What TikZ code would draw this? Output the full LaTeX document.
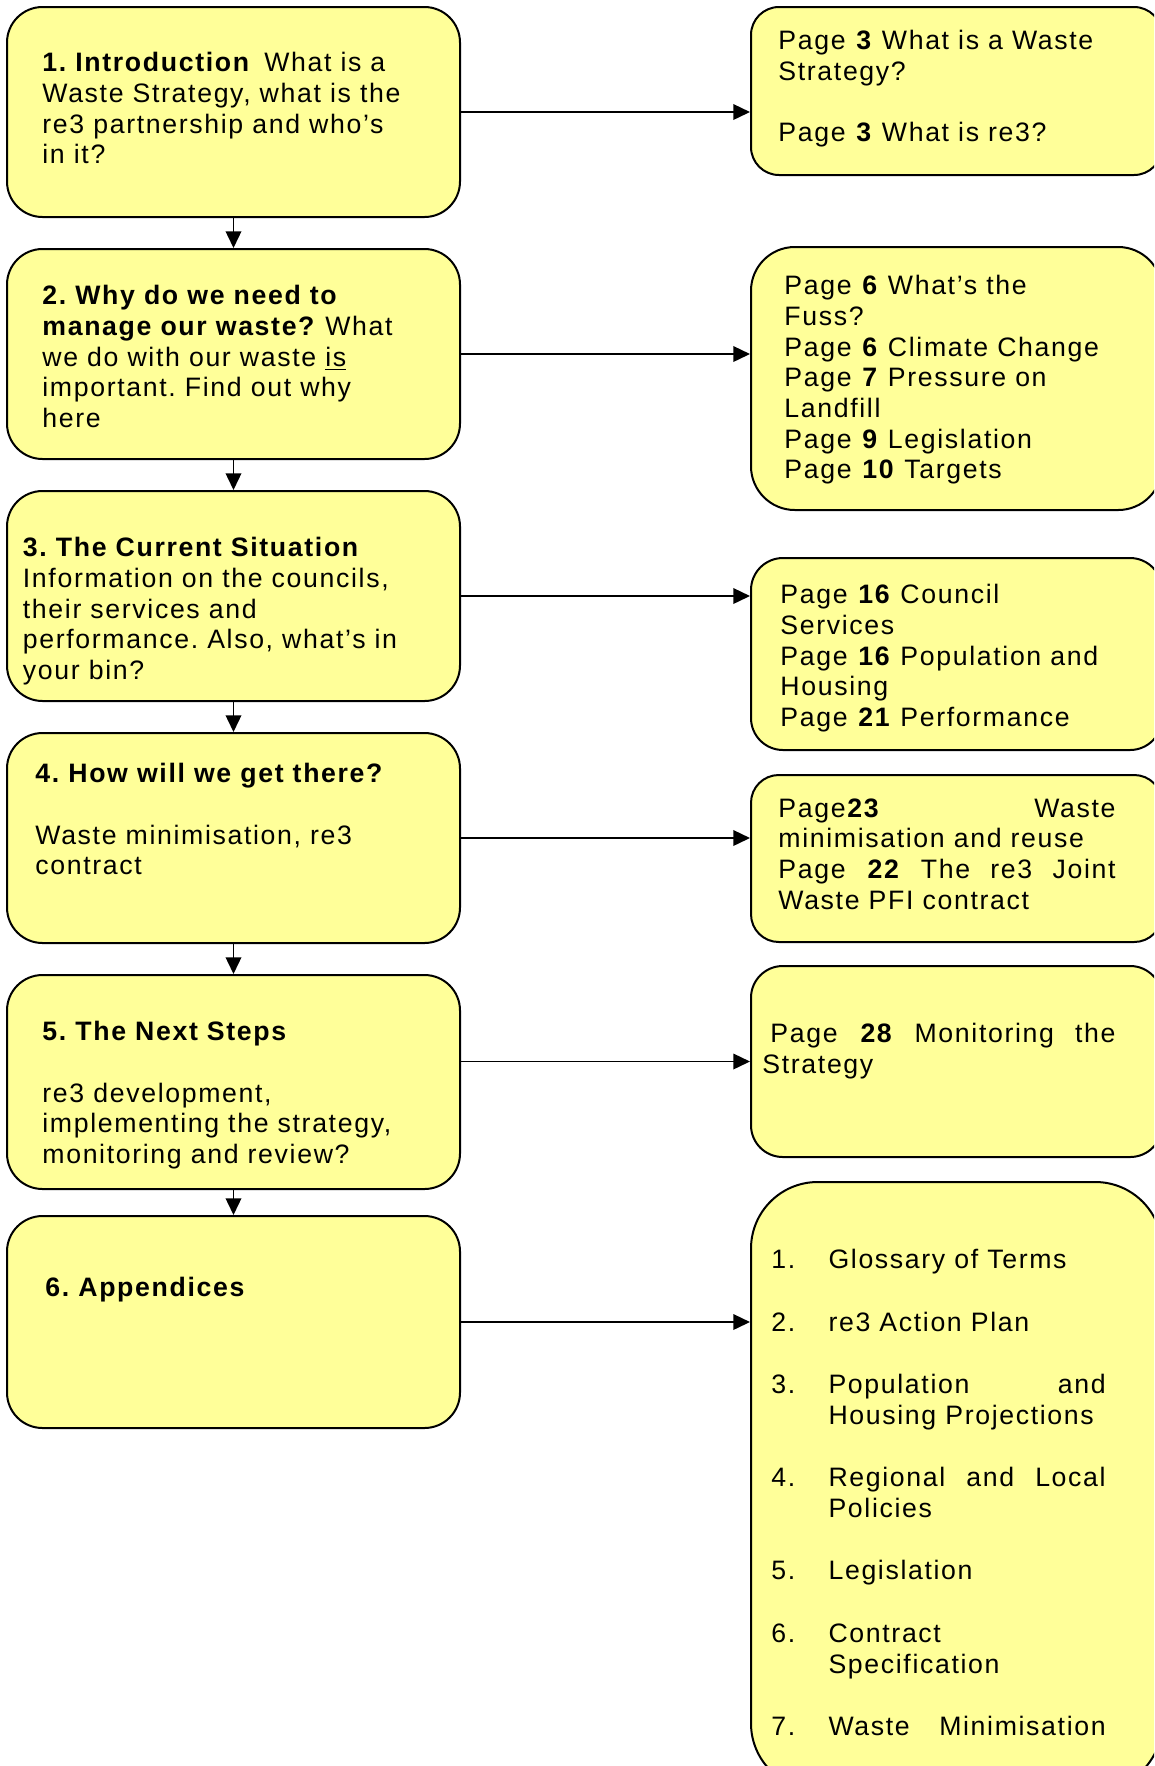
\documentclass[tikz,border=0pt]{standalone}
\usepackage{fontspec}
\setmainfont{Liberation Sans}[LetterSpace=6.2]
\usetikzlibrary{arrows.meta,fit}
\definecolor{boxyellow}{RGB}{255,255,153}
\newcommand{\apx}[2]{\makebox[25.7pt][l]{#1}#2}
\frenchspacing

\tikzset{
  lbox/.style={draw, line width=0.9pt, fill=boxyellow, rounded corners=16pt, inner sep=0pt},
  rbox/.style={lbox, rounded corners=#1},
  rbox/.default=13pt,
  txt/.style={anchor=north west, inner sep=0pt, align=left, font=\fontsize{12}{13.8}\selectfont},
  arr/.style={-{Triangle[length=7.5pt,width=7pt]}, line width=0.8pt},
}

\begin{document}
\begin{tikzpicture}[x=0.45pt,y=-0.45pt]
\clip (0,0) rectangle (1154,1766);

\node [lbox, fit={(7,7) (460,217)}] (b1) {};
\node [lbox, fit={(7,249) (460,459)}] (b2) {};
\node [lbox, fit={(7,491) (460,701)}] (b3) {};
\node [lbox, fit={(7,733) (460,943)}] (b4) {};
\node [lbox, fit={(7,975) (460,1189)}] (b5) {};
\node [lbox, fit={(7,1216) (460,1428)}] (b6) {};

\node [rbox=12.6pt, fit={(751,7) (1162,175)}] (r1) {};
\node [rbox=19.7pt, fit={(751,247) (1162,510)}] (r2) {};
\node [rbox=14.4pt, fit={(751,558) (1162,750)}] (r3) {};
\node [rbox=12.5pt, fit={(751,775) (1162,942)}] (r4) {};
\node [rbox=14.3pt, fit={(751,966) (1162,1157)}] (r5) {};
\node [rbox=30pt, fit={(751,1182) (1162,1790)}] (r6) {};

\node [txt] (t1) at (42,52) {\textbf{1. Introduction}\hspace{2pt} What is a\\Waste Strategy, what is the\\re3 partnership and who’s\\in it?};
\node [txt] (t2) at (42,285) {\textbf{2. Why do we need to}\\\textbf{manage our waste?} What\\we do with our waste \underline{is}\\important. Find out why\\here};
\node [txt] (t3) at (22.5,537) {\textbf{3. The Current Situation}\\Information on the councils,\\their services and\\performance. Also, what’s in\\your bin?};
\node [txt] (t4) at (35,763) {\textbf{4. How will we get there?}\\[13.8pt]Waste minimisation, re3\\contract};
\node [txt] (t5) at (42,1021) {\textbf{5. The Next Steps}\\[13.8pt]re3 development,\\implementing the strategy,\\monitoring and review?};
\node [txt] (t6) at (45,1277) {\textbf{6. Appendices}};

\node [txt] (p1) at (778,30) {Page \textbf{3} What is a Waste\\Strategy?\\[13.8pt]Page \textbf{3} What is re3?};
\node [txt] (p2) at (784,275) {Page \textbf{6} What’s the\\Fuss?\\Page \textbf{6} Climate Change\\Page \textbf{7} Pressure on\\Landfill\\Page \textbf{9} Legislation\\Page \textbf{10} Targets};
\node [txt] (p3) at (780,584) {Page \textbf{16} Council\\Services\\Page \textbf{16} Population and\\Housing\\Page \textbf{21} Performance};
\node [txt] (p4) at (778,798) {\makebox[151.7pt][s]{Page\textbf{23} Waste}\\minimisation and reuse\\\makebox[151.7pt][s]{Page \textbf{22} The re3 Joint}\\Waste PFI contract};
\node [txt] (p5) at (762,1023) {\makebox[158.9pt][s]{\hspace*{3.6pt}Page \textbf{28} Monitoring the}\\Strategy};
\node [txt, font=\fontsize{12}{14}\selectfont] (p6) at (771,1249) {\apx{1.}{Glossary of Terms}\\[14pt]\apx{2.}{re3 Action Plan}\\[14pt]\apx{3.}{\makebox[124.7pt][s]{Population and}}\\\apx{}{Housing Projections}\\[14pt]\apx{4.}{\makebox[124.7pt][s]{Regional and Local}}\\\apx{}{Policies}\\[14pt]\apx{5.}{Legislation}\\[14pt]\apx{6.}{Contract}\\\apx{}{Specification}\\[14pt]\apx{7.}{\makebox[124.7pt][s]{Waste Minimisation}}};

\draw [arr] (b1) -- (b2);
\draw [arr] (b2) -- (b3);
\draw [arr] (b3) -- (b4);
\draw [arr] (b4) -- (b5);
\draw [arr] (b5) -- (b6);
\draw [arr] (b1.east) -- (b1.east -| r1.west);
\draw [arr] (b2.east) -- (b2.east -| r2.west);
\draw [arr] (b3.east) -- (b3.east -| r3.west);
\draw [arr] (b4.east) -- (b4.east -| r4.west);
\draw [arr] (b5.east |- r5.west) -- (r5.west);
\draw [arr] (b6.east) -- (b6.east -| r6.west);
\end{tikzpicture}
\end{document}
